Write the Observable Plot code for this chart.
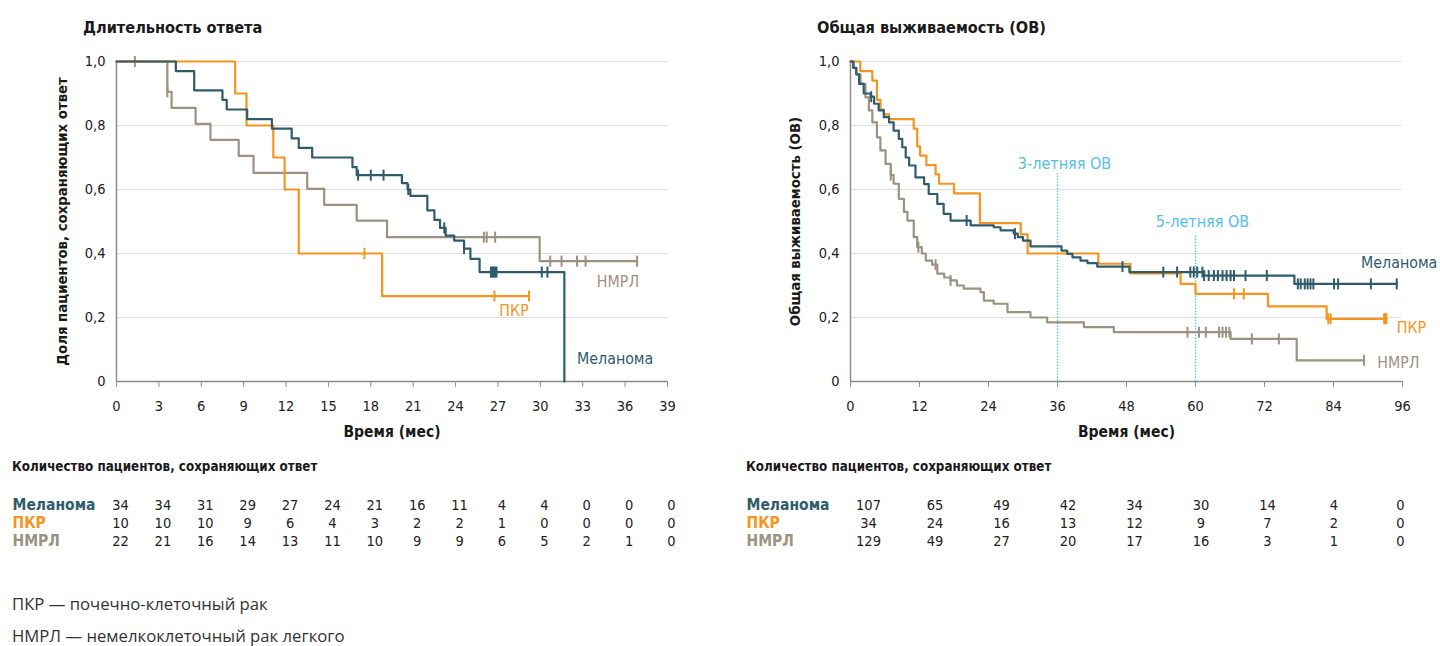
<!DOCTYPE html>
<html><head><meta charset="utf-8">
<script src="https://cdn.jsdelivr.net/npm/d3@7"></script>
<script src="https://cdn.jsdelivr.net/npm/@observablehq/plot@0.6"></script>
<style>
html,body{margin:0;padding:0;background:#fff;}
body{width:1440px;height:646px;overflow:hidden;position:relative;font-family:"DejaVu Sans Condensed","Liberation Sans Narrow",sans-serif;color:#222;}
.abs{position:absolute;white-space:nowrap;}
.title{font-weight:bold;font-size:16.2px;line-height:20px;color:#1a1a1a;}
.thead{font-weight:bold;font-size:13.3px;line-height:16px;color:#1a1a1a;}
.foot{font-family:"Open Sans","Noto Sans",sans-serif;font-size:16.7px;line-height:22px;color:#333;}
svg{overflow:visible;}
</style></head><body>
<script>
// ---------- DATA ----------
const seriesNames = ["Меланома", "ПКР", "НМРЛ"];
const seriesColors = ["#2e5c6c", "#f7941d", "#9d9181"];

// Left chart: Длительность ответа (months, proportion)
const dorXTicks = [0,3,6,9,12,15,18,21,24,27,30,33,36,39];
const dorMelT = [0,4.2,5.5,7.5,7.8,9.25,11.0,12.4,12.9,13.85,16.7,17.0,20.2,20.6,20.8,22.0,22.5,22.9,23.3,23.9,24.6,25.05,25.7,31.7];
const dorMelS = [1,0.97,0.91,0.88,0.85,0.82,0.79,0.76,0.73,0.70,0.67,0.645,0.62,0.60,0.58,0.535,0.505,0.48,0.456,0.44,0.415,0.383,0.342,0];
const dorMelEnd = 31.7;
const dorMelCens = [17.1,18.0,18.9,20.65,23.2,24.6,26.5,26.6,26.7,26.8,26.9,30.1,30.5];
const dorPkrT = [0,8.4,9.2,11.1,11.9,12.9,18.8];
const dorPkrS = [1,0.9,0.8,0.7,0.6,0.4,0.267];
const dorPkrEnd = 29.2;
const dorPkrCens = [17.55,26.75,29.2];
const dorNmT = [0,3.6,3.9,5.6,6.65,8.65,9.7,13.5,14.7,17.0,19.15,29.95];
const dorNmS = [1,0.905,0.855,0.805,0.755,0.705,0.652,0.602,0.552,0.503,0.451,0.376];
const dorNmEnd = 36.85;
const dorNmCens = [1.3,3.6,26.0,26.2,26.8,30.7,31.5,32.6,33.2,36.85];
const dorCounts = {
  "Меланома": [34,34,31,29,27,24,21,16,11,4,4,0,0,0],
  "ПКР": [10,10,10,9,6,4,3,2,2,1,0,0,0,0],
  "НМРЛ": [22,21,16,14,13,11,10,9,9,6,5,2,1,0]
};

// Right chart: Общая выживаемость
const osXTicks = [0,12,24,36,48,60,72,84,96];
const osMelT = [0,0.5,1.0,1.5,2.3,3.5,4.1,4.9,5.8,6.7,7.5,8.4,9.0,9.6,10.2,11.3,12.8,13.6,15.1,16.2,17.4,20.9,24.9,26.1,28.4,29.1,30.0,31.3,36.7,37.7,38.6,40.0,41.2,42.9,48.5,61.5,77.2];
const osMelS = [1,0.98,0.96,0.93,0.90,0.89,0.868,0.847,0.826,0.81,0.784,0.758,0.732,0.70,0.675,0.638,0.617,0.586,0.555,0.524,0.503,0.488,0.482,0.472,0.462,0.451,0.44,0.422,0.409,0.399,0.388,0.378,0.37,0.359,0.342,0.331,0.305];
const osMelEnd = 95.0;
const osMelCens = [3.6,20.2,28.6,47.3,54.4,56.8,59.1,59.7,60.3,61.2,61.5,62.3,63.2,63.9,64.7,65.4,66.1,66.7,68.7,72.4,77.8,78.3,79.0,79.5,80.0,80.5,84.1,84.8,90.5,95.0];
const osPkrT = [0,1.7,3.8,4.6,5.2,5.8,6.7,11.0,11.6,12.1,13.2,14.8,15.4,18.0,22.5,29.6,30.8,43.1,48.7,57.4,60.0,72.6,82.8];
const osPkrS = [1,0.97,0.94,0.88,0.85,0.835,0.82,0.79,0.735,0.706,0.676,0.647,0.618,0.588,0.495,0.46,0.40,0.368,0.338,0.305,0.274,0.235,0.196];
const osPkrEnd = 93.2;
const osPkrCens = [66.7,68.4,83.1,83.5,92.8,93.0,93.2];
const osNmT = [0,0.5,1.0,1.74,2.6,3.2,3.8,4.6,5.2,6.1,7.0,7.5,8.4,9.3,9.9,11.0,11.6,12.4,13.1,14.2,15.1,16.3,17.4,18.5,19.7,22.6,23.2,24.9,27.3,31.3,34.2,40.6,45.8,66.1,77.6];
const osNmS = [1,0.98,0.96,0.93,0.888,0.847,0.81,0.763,0.722,0.68,0.645,0.618,0.571,0.53,0.503,0.451,0.42,0.40,0.378,0.365,0.337,0.325,0.316,0.30,0.29,0.279,0.253,0.243,0.217,0.20,0.185,0.17,0.154,0.133,0.066];
const osNmEnd = 89.3;
const osNmCens = [7.0,11.8,14.8,17.4,58.6,60.6,61.8,64.1,64.7,65.3,65.9,69.8,74.5,89.3];
const osCounts = {
  "Меланома": [107,65,49,42,34,30,14,4,0],
  "ПКР": [34,24,16,13,12,9,7,2,0],
  "НМРЛ": [129,49,27,20,17,16,3,1,0]
};
const yTicks = [0,0.2,0.4,0.6,0.8,1.0];
const landmarks = [{t:36, top:0.65, text:"3-летняя ОВ", ty:0.68}, {t:60, top:0.456, text:"5-летняя ОВ", ty:0.498}];

// ---------- HELPERS ----------
const FONT = '"DejaVu Sans Condensed","Liberation Sans Narrow",sans-serif';
const yFmt = d => d === 0 ? "0" : d3.format(".1f")(d).replace(".", ",");
const tickSymbol = {draw(ctx, size){ const r = Math.sqrt(size/Math.PI); ctx.moveTo(0,-r); ctx.lineTo(0,r);} };
function steps(t, s, end){ const pts = t.map((x,i)=>({x, y:s[i]})); pts.push({x:end, y:s[s.length-1]}); return pts; }
function survAt(t, s, time){ let v = s[0]; for (let i=0;i<t.length;i++) if (t[i] <= time) v = s[i]; return v; }
function cens(t, s, c){ return c.map(x => ({x, y: survAt(t, s, x)})); }

function kmPlot(o){
  const marks = [
    Plot.gridY(yTicks, {stroke:"#dedede", strokeOpacity:1, strokeWidth:1.2}),
    Plot.ruleX([0], {y1:0, y2:1, stroke:"#8c8c8c", strokeWidth:1.5}),
    Plot.ruleY([0], {stroke:"#8c8c8c", strokeWidth:1.5}),
    Plot.axisX(o.xTicks, {tickSize:6, tickPadding:13, stroke:"#8c8c8c", fill:"#222", fontSize:14.5, label:null}),
    Plot.axisY(yTicks, {tickSize:0, tickPadding:11, tickFormat:yFmt, fill:"#222", fontSize:14.5, label:null}),
    Plot.text([o.xlabel], {frameAnchor:"bottom", dy:55, fontWeight:"bold", fontSize:15.5, fill:"#1a1a1a"}),
    Plot.text([o.ylabel], {frameAnchor:"left", textAnchor:"middle", dx:-o.ylabelOffset, rotate:-90, fontWeight:"bold", fontSize:14.8, fill:"#1a1a1a"})
  ];
  if (o.landmarks) {
    marks.push(Plot.ruleX(o.landmarks, {x:"t", y1:0, y2:"top", stroke:"#5bc3ee", strokeWidth:1.4, strokeDasharray:"1.5,1.5"}));
    marks.push(Plot.text(o.landmarks, {x:"t", y:"ty", text:"text", dx:7, fontSize:16, fill:"#55bde8"}));
  }
  o.series.forEach(sr => {
    marks.push(Plot.line(steps(sr.t, sr.s, sr.end), {x:"x", y:"y", curve:"step-after", stroke:sr.color, strokeWidth:2.2}));
    marks.push(Plot.dot(cens(sr.t, sr.s, sr.c), {x:"x", y:"y", symbol:tickSymbol, r:5.5, fill:"none", stroke:sr.color, strokeWidth:2}));
  });
  o.series.forEach(sr => {
    marks.push(Plot.text([sr.name], {x:() => sr.lx, y:() => sr.ly, textAnchor:"start", fontSize:15.8, fill:sr.color}));
  });
  return Plot.plot({
    width:700, height:420, marginTop:21, marginBottom:79, marginLeft:o.ml, marginRight:o.mr,
    style:{fontFamily:FONT, background:"transparent"},
    x:{domain:o.xDomain}, y:{domain:[0,1]},
    marks
  });
}

function riskTable(o){
  const cells = [];
  seriesNames.forEach(n => o.counts[n].forEach((v,i) => cells.push({name:n, t:o.times[i], v})));
  return Plot.plot({
    width:700, height:70, marginTop:0, marginBottom:0, marginLeft:o.ml, marginRight:0,
    style:{fontFamily:FONT, background:"transparent"},
    x:{domain:[o.times[0], o.times[o.times.length-1]], range:o.range, axis:null},
    y:{type:"point", domain:seriesNames, range:[15,51], padding:0, axis:null},
    color:{type:"identity"},
    marks:[
      Plot.text(cells, {x:"t", y:"name", text:"v", fontSize:14.5, fill:"#222"}),
      Plot.text(seriesNames, {y:d=>d, frameAnchor:"left", textAnchor:"start", fontWeight:"bold", fontSize:15.5, fill:(d,i)=>seriesColors[i]})
    ]
  });
}

function place(node, left, top){ node.style.position="absolute"; node.style.left=left+"px"; node.style.top=top+"px"; document.body.appendChild(node); }
function label(cls, text, left, top){ const d=document.createElement("div"); d.className="abs "+cls; d.textContent=text; d.style.left=left+"px"; d.style.top=top+"px"; document.body.appendChild(d); }

// ---------- BUILD ----------
const left = kmPlot({
  xDomain:[0,39], xTicks:dorXTicks, ml:116, mr:33, xlabel:"Время (мес)",
  ylabel:"Доля пациентов, сохраняющих ответ", ylabelOffset:54,
  series:[
    {name:"НМРЛ", t:dorNmT, s:dorNmS, end:dorNmEnd, c:dorNmCens, color:seriesColors[2], lx:34.0, ly:0.3125},
    {name:"ПКР", t:dorPkrT, s:dorPkrS, end:dorPkrEnd, c:dorPkrCens, color:seriesColors[1], lx:27.1, ly:0.219},
    {name:"Меланома", t:dorMelT, s:dorMelS, end:dorMelEnd, c:dorMelCens, color:seriesColors[0], lx:32.6, ly:0.072}
  ]
});
place(left, 0, 40);

const right = kmPlot({
  xDomain:[0,96], xTicks:osXTicks, ml:110, mr:38, xlabel:"Время (мес)",
  ylabel:"Общая выживаемость (ОВ)", ylabelOffset:55, landmarks,
  series:[
    {name:"НМРЛ", t:osNmT, s:osNmS, end:osNmEnd, c:osNmCens, color:seriesColors[2], lx:91.6, ly:0.059},
    {name:"ПКР", t:osPkrT, s:osPkrS, end:osPkrEnd, c:osPkrCens, color:seriesColors[1], lx:95.0, ly:0.166},
    {name:"Меланома", t:osMelT, s:osMelS, end:osMelEnd, c:osMelCens, color:seriesColors[0], lx:88.8, ly:0.372}
  ]
});
place(right, 740, 40);

label("title", "Длительность ответа", 83, 18);
label("title", "Общая выживаемость (ОВ)", 817, 18);
label("thead", "Количество пациентов, сохраняющих ответ", 12, 459);
label("thead", "Количество пациентов, сохраняющих ответ", 746, 459);

place(riskTable({counts:dorCounts, times:dorXTicks, range:[120,671], ml:12}), 0, 490);
place(riskTable({counts:osCounts, times:osXTicks, range:[128,660], ml:6}), 740, 490);

label("foot", "ПКР — почечно-клеточный рак", 12, 593);
label("foot", "НМРЛ — немелкоклеточный рак легкого", 12, 625);
</script>
</body></html>
